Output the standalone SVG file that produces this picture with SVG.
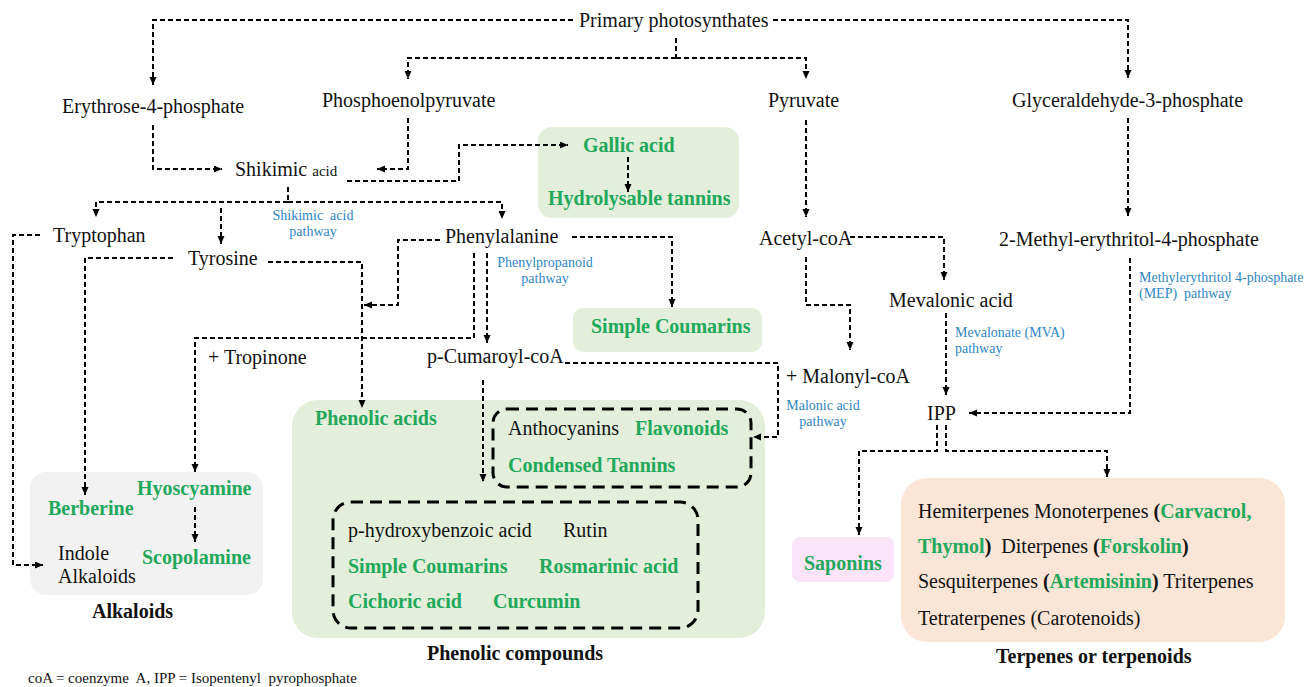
<svg xmlns="http://www.w3.org/2000/svg" width="1316" height="687" viewBox="0 0 1316 687">
<defs>
<marker id="ah" markerUnits="userSpaceOnUse" markerWidth="9" markerHeight="8" refX="8" refY="3.5" orient="auto">
<path d="M0,0 L8,3.5 L0,7 z" fill="#000"/>
</marker>
<style>
text{font-family:"Liberation Serif","Times New Roman",serif;font-size:20px;fill:#111;white-space:pre}
.g{font-weight:bold;fill:#22A85A}
.b{font-weight:bold;fill:#111}
.bl{font-size:14px;fill:#2F86C4}
.sm{font-size:15px}
.c{stroke:#000;stroke-width:2;stroke-dasharray:5 3;fill:none}
.a{marker-end:url(#ah)}
.ib{fill:none;stroke:#000;stroke-width:3;stroke-dasharray:12 7}
</style>
</defs>
<rect width="1316" height="687" fill="#fff"/>

<g id="boxes">
<rect id="box-gallic" x="538" y="127" width="201" height="91" rx="14" fill="#E3EFDB"/>
<rect id="box-coumarins" x="573" y="308" width="189" height="44" rx="10" fill="#E3EFDB"/>
<rect id="box-alkaloids" x="30" y="472" width="233" height="123" rx="16" fill="#F2F2F2"/>
<rect id="box-phenolic" x="292" y="400" width="473" height="238" rx="26" fill="#E3EFDB"/>
<rect id="box-saponins" x="792" y="537" width="102" height="45" rx="8" fill="#FBE4F8"/>
<rect id="box-terpenes" x="901" y="478" width="384" height="164" rx="26" fill="#FBE5D6"/>
<rect id="dash-flavonoids" class="ib" x="493" y="409" width="258" height="78" rx="14"/>
<rect id="dash-phenolics" class="ib" x="333" y="502" width="365" height="126" rx="18"/>
</g>

<g id="connectors">
<path class="c a" d="M573,20 H153 V85"/>
<path class="c a" d="M773,20 H1128 V78"/>
<path class="c" d="M676,38 V58"/>
<path class="c a" d="M676,58 H408 V79"/>
<path class="c a" d="M676,58 H806 V79"/>
<path class="c a" d="M153,125 V169 H222"/>
<path class="c a" d="M408,118 V169 H377"/>
<path class="c a" d="M347,181 H459 V145 H568"/>
<path class="c a" d="M628,157 V192"/>
<path class="c" d="M288,187 V202"/>
<path class="c a" d="M288,202 H96 V217"/>
<path class="c a" d="M288,202 H502 V219"/>
<path class="c a" d="M221,208 V244"/>
<path class="c a" d="M40,235 H13 V565 H43"/>
<path class="c a" d="M173,258 H85 V495"/>
<path class="c a" d="M268,262 H362 V408"/>
<path class="c a" d="M440,240 H398 V305 H364"/>
<path class="c a" d="M474,253 V338 H195 V472"/>
<path class="c a" d="M487,253 V343"/>
<path class="c a" d="M572,237 H672 V307"/>
<path class="c a" d="M565,363 H778 V437 H753"/>
<path class="c a" d="M483,380 V482"/>
<path class="c a" d="M195,507 V542"/>
<path class="c a" d="M806,120 V217"/>
<path class="c a" d="M850,237 H944 V280"/>
<path class="c a" d="M806,257 V305 H850 V350"/>
<path class="c a" d="M946,313 V395"/>
<path class="c a" d="M1128,118 V216"/>
<path class="c a" d="M1130,258 V413 H969"/>
<path class="c a" d="M937,425 V451 H859 V535"/>
<path class="c a" d="M946,425 V451 H1107 V477"/>
</g>

<g id="n-primary"><text x="579" y="27">Primary photosynthates</text></g>
<g id="n-erythrose"><text x="62" y="113">Erythrose-4-phosphate</text></g>
<g id="n-pep"><text x="322" y="107">Phosphoenolpyruvate</text></g>
<g id="n-pyruvate"><text x="768" y="107">Pyruvate</text></g>
<g id="n-g3p"><text x="1012" y="107">Glyceraldehyde-3-phosphate</text></g>
<g id="n-shikimic"><text x="235" y="176">Shikimic <tspan class="sm">acid</tspan></text></g>
<g id="n-gallic"><text class="g" x="583" y="152">Gallic acid</text><text class="g" x="548" y="205">Hydrolysable tannins</text></g>
<g id="n-tryptophan"><text x="53" y="242">Tryptophan</text></g>
<g id="n-tyrosine"><text x="188" y="265">Tyrosine</text></g>
<g id="n-phenylalanine"><text x="445" y="243">Phenylalanine</text></g>
<g id="l-shikimic"><text class="bl" x="313" y="220" text-anchor="middle">Shikimic  acid</text><text class="bl" x="313" y="236" text-anchor="middle">pathway</text></g>
<g id="l-phenylpropanoid"><text class="bl" x="545" y="267" text-anchor="middle">Phenylpropanoid</text><text class="bl" x="545" y="283" text-anchor="middle">pathway</text></g>
<g id="n-acetyl"><text x="759" y="245">Acetyl-coA</text></g>
<g id="n-mep"><text x="999" y="246">2-Methyl-erythritol-4-phosphate</text></g>
<g id="l-mep"><text class="bl" x="1139" y="282">Methylerythritol 4-phosphate</text><text class="bl" x="1139" y="298">(MEP)  pathway</text></g>
<g id="n-mevalonic"><text x="889" y="307">Mevalonic acid</text></g>
<g id="l-mva"><text class="bl" x="955" y="337">Mevalonate (MVA)</text><text class="bl" x="955" y="353">pathway</text></g>
<g id="n-simple-coumarins"><text class="g" x="591" y="333">Simple Coumarins</text></g>
<g id="n-tropinone"><text x="208" y="364">+ Tropinone</text></g>
<g id="n-cumaroyl"><text x="427" y="363">p-Cumaroyl-coA</text></g>
<g id="n-malonyl"><text x="786" y="383">+ Malonyl-coA</text></g>
<g id="l-malonic"><text class="bl" x="823" y="410" text-anchor="middle">Malonic acid</text><text class="bl" x="823" y="426" text-anchor="middle">pathway</text></g>
<g id="n-ipp"><text x="927" y="420">IPP</text></g>
<g id="n-phenolic-acids"><text class="g" x="315" y="425">Phenolic acids</text></g>
<g id="n-flavonoids"><text x="508" y="435">Anthocyanins</text><text class="g" x="635" y="435">Flavonoids</text><text class="g" x="508" y="472">Condensed Tannins</text></g>
<g id="n-phenolics"><text x="348" y="537">p-hydroxybenzoic acid</text><text x="563" y="537">Rutin</text>
<text class="g" x="348" y="573">Simple Coumarins</text><text class="g" x="539" y="573">Rosmarinic acid</text>
<text class="g" x="348" y="608">Cichoric acid</text><text class="g" x="493" y="608">Curcumin</text></g>
<g id="n-alkaloids"><text class="g" x="137" y="495">Hyoscyamine</text><text class="g" x="48" y="515">Berberine</text>
<text class="g" x="142" y="564">Scopolamine</text><text x="58" y="560">Indole</text><text x="58" y="583">Alkaloids</text></g>
<g id="n-saponins"><text class="g" x="804" y="570">Saponins</text></g>
<g id="n-terpenes">
<text x="918" y="518">Hemiterpenes Monoterpenes <tspan class="b">(</tspan><tspan class="g">Carvacrol,</tspan></text>
<text x="918" y="553"><tspan class="g">Thymol</tspan><tspan class="b">)</tspan>  Diterpenes <tspan class="b">(</tspan><tspan class="g">Forskolin</tspan><tspan class="b">)</tspan></text>
<text x="918" y="588">Sesquiterpenes <tspan class="b">(</tspan><tspan class="g">Artemisinin</tspan><tspan class="b">)</tspan> Triterpenes</text>
<text x="918" y="625">Tetraterpenes (Carotenoids)</text>
</g>
<g id="captions">
<text class="b" x="92" y="618">Alkaloids</text>
<text class="b" x="427" y="660">Phenolic compounds</text>
<text class="b" x="996" y="663">Terpenes or terpenoids</text>
<text class="sm" x="28" y="683">coA = coenzyme  A, IPP = Isopentenyl  pyrophosphate</text>
</g>
</svg>
